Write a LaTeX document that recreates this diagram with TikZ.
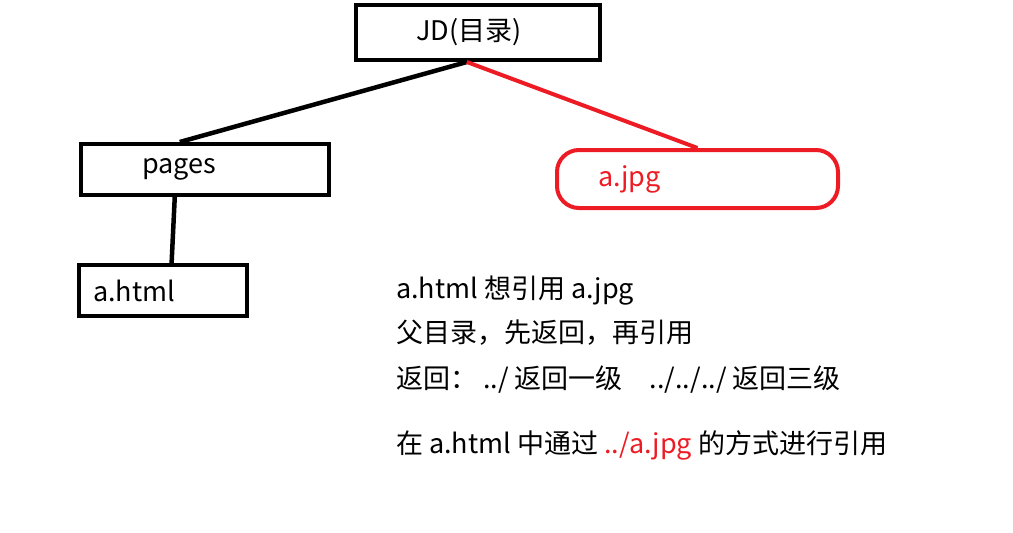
\documentclass[tikz,border=0pt]{standalone}
\usepackage{fontspec}
\setmainfont{Noto Sans CJK SC}
\usetikzlibrary{calc}
\definecolor{pred}{HTML}{ED1C24}
\begin{document}
\begin{tikzpicture}[x=1pt,y=-1pt,
  box/.style={draw=black,line width=4pt,rectangle,inner sep=0pt,align=left,
    font=\fontsize{27}{31}\selectfont},
  rbox/.style={draw=pred,line width=4pt,rectangle,rounded corners=22pt,inner sep=0pt,align=left,
    text=pred,font=\fontsize{27}{31}\selectfont},
  blk/.style={line width=4.5pt,draw=black},
  rln/.style={line width=4pt,draw=pred},
  txt/.style={anchor=base west,inner sep=0pt,font=\fontsize{27}{31}\selectfont}]
\useasboundingbox (0,0) rectangle (1013,533);
\node[box,minimum width=244pt,minimum height=55pt,text width=124pt] (jd) at (478,32.5) {\raisebox{-2pt}{JD(目录)}};
\node[box,minimum width=248pt,minimum height=51pt,text width=126pt] (pages) at (205,169.5) {pages};
\node[box,minimum width=168pt,minimum height=51pt,text width=140pt] (ahtml) at (163,290.5) {\raisebox{-2pt}{a.html}};
\node[rbox,minimum width=281pt,minimum height=58pt,text width=199pt] (ajpg) at (697.5,179) {a.jpg};
\coordinate (jdb) at ($(jd.south west)!0.455!(jd.south east)$);
\draw[blk] (jdb) -- ($(pages.north west)!0.4!(pages.north east)$);
\draw[rln] (jdb) -- (ajpg.north);
\draw[blk] ($(pages.south west)!0.38!(pages.south east)$) -- ($(ahtml.north west)!0.55!(ahtml.north east)$);
\node[txt] (t1) at (396,298) {a.html 想引用 a.jpg};
\node[txt] (t2) at (396,342) {父目录，先返回，再引用};
\node[txt] (t3) at (396,388) {返回： ../ 返回一级\quad ../../../ 返回三级};
\node[txt] (t4) at (396,453) {在 a.html 中通过 \textcolor{pred}{../a.jpg} 的方式进行引用};
\end{tikzpicture}
\end{document}
